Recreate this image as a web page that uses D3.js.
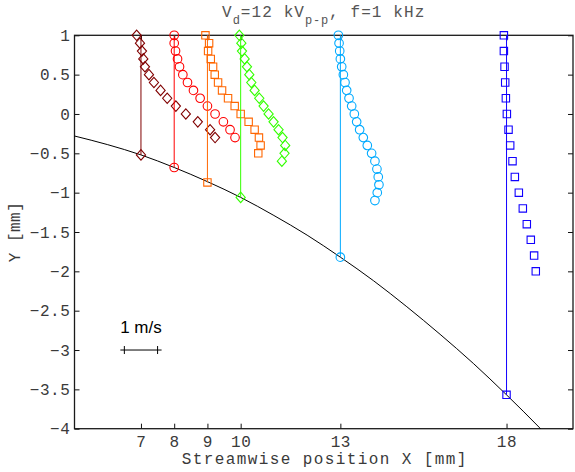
<!DOCTYPE html>
<html>
<head>
<meta charset="utf-8">
<script src="https://cdn.jsdelivr.net/npm/d3@7"></script>
<style>
  html, body { margin: 0; padding: 0; background: #fff; }
  svg { display: block; }
</style>
</head>
<body>
<svg id="chart" width="575" height="472"></svg>
<script>
// Measurement stations along the wall (streamwise position, mm)
const stations = [7, 8, 9, 10, 13, 18];
// Wall height at each station (mm)
const wallAtStation = [-0.52, -0.68, -0.87, -1.06, -1.82, -3.57];

// Wall contour
const wallX = [5, 6, 7, 8, 9, 10, 11, 12, 13, 14, 15, 16, 17, 18, 19, 19.5];
const wallY = [-0.28, -0.39, -0.52, -0.68, -0.86, -1.06, -1.29, -1.54, -1.82, -2.12, -2.45, -2.80, -3.17, -3.57, -3.99, -4.21];

// Velocity profiles: Y positions (mm) and streamwise velocity (m/s)
const yX7  = [1.0, 0.9, 0.8, 0.7, 0.6, 0.5, 0.4, 0.3, 0.2, 0.1, 0.0, -0.1, -0.2, -0.3];
const uX7  = [-0.13, -0.03, 0.03, 0.07, 0.12, 0.24, 0.39, 0.59, 0.79, 1.05, 1.35, 1.71, 2.08, 2.23];
const yX8  = [1.0, 0.9, 0.8, 0.7, 0.6, 0.5, 0.4, 0.3, 0.2, 0.1, 0.0, -0.1, -0.2, -0.3];
const uX8  = [0.0, 0.0, 0.04, 0.10, 0.16, 0.26, 0.40, 0.58, 0.78, 1.00, 1.23, 1.48, 1.68, 1.83];
const yX9  = [1.0, 0.9, 0.8, 0.7, 0.6, 0.5, 0.4, 0.3, 0.2, 0.1, 0.0, -0.1, -0.2, -0.3, -0.4, -0.5];
const uX9  = [-0.06, 0.05, 0.02, 0.10, 0.17, 0.22, 0.32, 0.44, 0.62, 0.82, 1.00, 1.24, 1.42, 1.55, 1.60, 1.53];
const yX10 = [1.0, 0.9, 0.8, 0.7, 0.6, 0.5, 0.4, 0.3, 0.2, 0.1, 0.0, -0.1, -0.2, -0.3, -0.4, -0.5, -0.6];
const uX10 = [-0.04, 0.02, 0.04, 0.12, 0.19, 0.26, 0.32, 0.42, 0.56, 0.69, 0.84, 0.99, 1.14, 1.26, 1.34, 1.32, 1.24];
const yX13 = [1.0, 0.9, 0.8, 0.7, 0.6, 0.5, 0.4, 0.3, 0.2, 0.1, 0.0, -0.1, -0.2, -0.3, -0.4, -0.5, -0.6, -0.7, -0.8, -0.9, -1.0, -1.1];
const uX13 = [-0.06, -0.04, -0.02, 0.0, 0.04, 0.09, 0.14, 0.19, 0.26, 0.34, 0.42, 0.49, 0.58, 0.69, 0.81, 0.94, 1.04, 1.10, 1.14, 1.16, 1.11, 1.04];
const yX18 = [1.0, 0.8, 0.6, 0.4, 0.2, 0.0, -0.2, -0.4, -0.6, -0.8, -1.0, -1.2, -1.4, -1.6, -1.8, -2.0];
const uX18 = [-0.08, -0.08, -0.06, -0.04, -0.02, 0.01, 0.06, 0.11, 0.18, 0.25, 0.37, 0.49, 0.61, 0.73, 0.83, 0.88];

const profileY = [yX7, yX8, yX9, yX10, yX13, yX18];
const profileU = [uX7, uX8, uX9, uX10, uX13, uX18];
const colors  = ["#800000", "#ff0000", "#ff6600", "#33ff00", "#00aaff", "#1100ff"];
const markers = ["diamond", "circle", "square", "diamond", "circle", "square"];

// Axis ticks
const xTicks = [7, 8, 9, 10, 13, 18];
const yTicks = [-4, -3.5, -3, -2.5, -2, -1.5, -1, -0.5, 0, 0.5, 1];

// Velocity scale: 1 m/s drawn as 1 mm of streamwise displacement
const velScale = 1.0;
const refVelocity = 1;

const svg = d3.select("#chart");
const x = d3.scaleLinear().domain([5, 20]).range([74.5, 573]);
const y = d3.scaleLinear().domain([-4, 1]).range([428.7, 35.3]);

const mono = "'Liberation Mono', 'DejaVu Sans Mono', monospace";
const textColor = "#3a3a3a";

svg.append("defs").append("clipPath").attr("id", "plotArea")
  .append("rect")
  .attr("x", x(5)).attr("y", y(1))
  .attr("width", x(20) - x(5)).attr("height", y(-4) - y(1));

// Axes with inward ticks on all four sides
function styleAxis(g) {
  g.select(".domain").remove();
  g.selectAll(".tick line").attr("stroke", "#111").attr("stroke-width", 1);
  g.selectAll(".tick text")
    .attr("fill", textColor)
    .style("font-family", mono)
    .style("font-size", "16px")
    .style("letter-spacing", "0.6px");
}
const fmtY = v => (v < 0 ? "\u2212" : "") + d3.format("")(Math.abs(v));

svg.append("g").attr("transform", `translate(0,${y(-4)})`)
  .call(d3.axisBottom(x).tickValues(xTicks).tickSize(-5).tickSizeOuter(0).tickPadding(7).tickFormat(d3.format("d")))
  .call(styleAxis);
svg.append("g").attr("transform", `translate(0,${y(1)})`)
  .call(d3.axisTop(x).tickValues(xTicks).tickSize(-5).tickSizeOuter(0).tickFormat(""))
  .call(styleAxis);
svg.append("g").attr("transform", `translate(${x(5)},0)`)
  .call(d3.axisLeft(y).tickValues(yTicks).tickSize(-5).tickSizeOuter(0).tickPadding(4).tickFormat(fmtY))
  .call(styleAxis);
svg.append("g").attr("transform", `translate(${x(20)},0)`)
  .call(d3.axisRight(y).tickValues(yTicks).tickSize(-5).tickSizeOuter(0).tickFormat(""))
  .call(styleAxis);

// Plot box
svg.append("rect")
  .attr("x", x(5)).attr("y", y(1))
  .attr("width", x(20) - x(5)).attr("height", y(-4) - y(1))
  .attr("fill", "none").attr("stroke", "#1a1a1a").attr("stroke-width", 1.3);

const plot = svg.append("g").attr("clip-path", "url(#plotArea)");

// Wall contour
const wallLine = d3.line().x(d => x(d[0])).y(d => y(d[1])).curve(d3.curveMonotoneX);
plot.append("path")
  .datum(wallX.map((v, i) => [v, wallY[i]]))
  .attr("d", wallLine)
  .attr("fill", "none").attr("stroke", "#000").attr("stroke-width", 1);

// Marker shapes
function markerPath(type, cx, cy) {
  if (type === "diamond") {
    const w = 4.6, h = 5.2;
    return `M${cx},${cy - h}L${cx + w},${cy}L${cx},${cy + h}L${cx - w},${cy}Z`;
  }
  if (type === "square") {
    const s = 3.7;
    return `M${cx - s},${cy - s}H${cx + s}V${cy + s}H${cx - s}Z`;
  }
  const r = 4.3;
  return `M${cx - r},${cy}A${r},${r} 0 1,0 ${cx + r},${cy}A${r},${r} 0 1,0 ${cx - r},${cy}Z`;
}

stations.forEach((x0, i) => {
  const col = colors[i];
  const g = svg.append("g");
  // station line from the top of the domain down to the wall
  g.append("line")
    .attr("x1", x(x0)).attr("x2", x(x0))
    .attr("y1", y(1)).attr("y2", y(wallAtStation[i]))
    .attr("stroke", col).attr("stroke-width", 1);
  // wall point
  g.append("path")
    .attr("d", markerPath(markers[i], x(x0), y(wallAtStation[i])))
    .attr("fill", "none").attr("stroke", col).attr("stroke-width", 1.1);
  // velocity profile
  const pts = profileY[i].map((yy, j) => [x0 + profileU[i][j] * velScale, yy]);
  g.selectAll("path.pt").data(pts).enter().append("path")
    .attr("class", "pt")
    .attr("d", d => markerPath(markers[i], x(d[0]), y(d[1])))
    .attr("fill", "none").attr("stroke", col).attr("stroke-width", 1.1);
});

// Velocity reference bar
const barY = -3, barX0 = 6.5;
const bar = svg.append("g").attr("stroke", "#000").attr("stroke-width", 1);
bar.append("line")
  .attr("x1", x(barX0) - 4).attr("x2", x(barX0 + refVelocity * velScale) + 4)
  .attr("y1", y(barY)).attr("y2", y(barY));
[barX0, barX0 + refVelocity * velScale].forEach(v => {
  bar.append("line")
    .attr("x1", x(v)).attr("x2", x(v))
    .attr("y1", y(barY) - 4).attr("y2", y(barY) + 4);
});
svg.append("text")
  .attr("x", x(barX0 + refVelocity * velScale / 2)).attr("y", y(-2.79))
  .attr("text-anchor", "middle")
  .style("font-family", "'Liberation Sans', Arial, sans-serif")
  .style("font-size", "17px")
  .attr("fill", "#000")
  .text(refVelocity + " m/s");

// Axis labels
svg.append("text")
  .attr("x", (x(5) + x(20)) / 2 + 1).attr("y", 463.5)
  .attr("text-anchor", "middle")
  .style("font-family", mono).style("font-size", "16px").style("letter-spacing", "1.4px")
  .attr("fill", textColor)
  .text("Streamwise position X [mm]");

svg.append("text")
  .attr("transform", `translate(19.5,${(y(1) + y(-4)) / 2}) rotate(-90)`)
  .attr("text-anchor", "middle")
  .style("font-family", mono).style("font-size", "16px").style("letter-spacing", "0.5px")
  .attr("fill", textColor)
  .text("Y [mm]");

// Title with subscripts
const title = svg.append("text")
  .attr("x", (x(5) + x(20)) / 2).attr("y", 17)
  .attr("text-anchor", "middle")
  .style("font-family", mono).style("font-size", "16px").style("letter-spacing", "1.1px")
  .attr("fill", "#555");
title.append("tspan").text("V");
title.append("tspan").attr("dy", 7).style("font-size", "12px").style("letter-spacing", "0.8px").text("d");
title.append("tspan").attr("dy", -7).text("=12 kV");
title.append("tspan").attr("dy", 7).style("font-size", "12px").style("letter-spacing", "0.8px").text("p-p");
title.append("tspan").attr("dy", -7).text(", f=1 kHz");
</script>
</body>
</html>
